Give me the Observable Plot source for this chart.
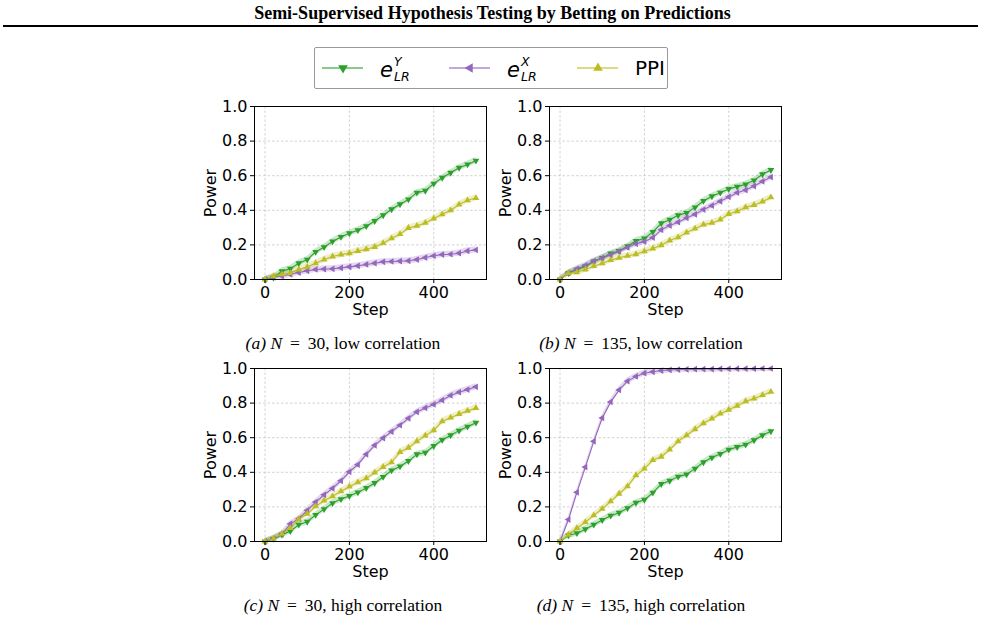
<!DOCTYPE html>
<html>
<head>
<meta charset="utf-8">
<script src="https://cdn.jsdelivr.net/npm/d3@7"></script>
<script src="https://cdn.jsdelivr.net/npm/@observablehq/plot@0.6"></script>
<style>
  html, body { margin: 0; padding: 0; background: #fff; }
  #page { position: relative; width: 985px; height: 633px; overflow: hidden; background: #fff; }
  #title { position: absolute; left: 0; width: 985px; top: 3px; text-align: center;
           font-family: "Liberation Serif", serif; font-weight: bold; font-size: 18px; color: #000; }
  #rule { position: absolute; left: 3px; width: 975px; top: 25px; height: 2px; background: #000; }
  #legend { position: absolute; left: 314px; top: 47px; width: 352px; height: 40px;
            border: 1px solid #9a9a9a; border-radius: 2px; background: #fff;
            font-family: "DejaVu Sans", sans-serif; color: #000; }
  .item { position: absolute; top: 0; height: 40px; display: flex; align-items: center; }
  .item svg { display: block; }
  .math { position: relative; display: inline-block; font-style: italic; width: 34px; height: 40px; }
  .math .base { position: absolute; left: 0; top: 12px; font-size: 21px; line-height: 21px; }
  .math .sup { position: absolute; left: 14px; top: 8px; font-size: 12.5px; line-height: 12.5px; }
  .math .sub { position: absolute; left: 14px; top: 23px; font-size: 12.5px; line-height: 12.5px; }
  .plain { font-size: 20px; }
  .panel { position: absolute; }
  .cap { position: absolute; width: 300px; text-align: center; font-family: "Liberation Serif", serif;
         font-size: 17.5px; color: #000; }
</style>
</head>
<body>
<div id="page">
  <div id="title">Semi-Supervised Hypothesis Testing by Betting on Predictions</div>
  <div id="rule"></div>
  <div id="legend"></div>
  <div id="pa" class="panel" style="left:200px; top:95px"></div>
  <div id="pb" class="panel" style="left:495px; top:95px"></div>
  <div id="pc" class="panel" style="left:200px; top:357px"></div>
  <div id="pd" class="panel" style="left:495px; top:357px"></div>
  <div class="cap" style="left:193px; top:333px"><i>(a)</i> <i>N</i>&#8201; = &#8201;30, low correlation</div>
  <div class="cap" style="left:491px; top:333px"><i>(b)</i> <i>N</i>&#8201; = &#8201;135, low correlation</div>
  <div class="cap" style="left:193px; top:595px"><i>(c)</i> <i>N</i>&#8201; = &#8201;30, high correlation</div>
  <div class="cap" style="left:491px; top:595px"><i>(d)</i> <i>N</i>&#8201; = &#8201;135, high correlation</div>
</div>
<script>
// Test steps at which power was measured
const steps = [0, 20, 40, 60, 80, 100, 120, 140, 160, 180, 200, 220, 240, 260, 280, 300,
               320, 340, 360, 380, 400, 420, 440, 460, 480, 500];

// (a) N = 30, low correlation
const aEY   = [0, 0.010, 0.048, 0.063, 0.094, 0.115, 0.160, 0.187, 0.220, 0.246, 0.267, 0.285, 0.308,
               0.338, 0.371, 0.406, 0.435, 0.463, 0.502, 0.513, 0.554, 0.588, 0.617, 0.646, 0.665, 0.687];
const aEX   = [0, 0.013, 0.020, 0.030, 0.040, 0.050, 0.058, 0.060, 0.062, 0.067, 0.073, 0.079, 0.087,
               0.094, 0.102, 0.104, 0.106, 0.108, 0.115, 0.127, 0.137, 0.144, 0.146, 0.152, 0.165, 0.171];
const aPPI  = [0, 0.020, 0.030, 0.037, 0.058, 0.073, 0.094, 0.115, 0.133, 0.144, 0.152, 0.165, 0.175,
               0.188, 0.210, 0.238, 0.262, 0.298, 0.310, 0.327, 0.352, 0.377, 0.400, 0.433, 0.458, 0.471];

// (b) N = 135, low correlation
const bEY   = [0, 0.037, 0.056, 0.075, 0.104, 0.125, 0.150, 0.165, 0.192, 0.223, 0.238, 0.275, 0.325,
               0.346, 0.371, 0.385, 0.417, 0.454, 0.481, 0.502, 0.523, 0.537, 0.550, 0.573, 0.608, 0.633];
const bEX   = [0, 0.037, 0.062, 0.081, 0.106, 0.125, 0.142, 0.163, 0.185, 0.206, 0.219, 0.242, 0.287,
               0.312, 0.331, 0.356, 0.377, 0.404, 0.427, 0.452, 0.477, 0.502, 0.517, 0.540, 0.567, 0.592];
const bPPI  = [0, 0.037, 0.042, 0.058, 0.077, 0.094, 0.112, 0.125, 0.137, 0.146, 0.163, 0.179, 0.198,
               0.225, 0.244, 0.271, 0.294, 0.317, 0.327, 0.346, 0.379, 0.394, 0.417, 0.431, 0.450, 0.475];

// (c) N = 30, high correlation
const cEY   = [0, 0.015, 0.039, 0.060, 0.097, 0.114, 0.154, 0.187, 0.222, 0.245, 0.263, 0.284, 0.309,
               0.338, 0.373, 0.411, 0.434, 0.465, 0.504, 0.514, 0.552, 0.587, 0.614, 0.641, 0.664, 0.687];
const cEX   = [0, 0.017, 0.042, 0.102, 0.131, 0.180, 0.228, 0.270, 0.307, 0.351, 0.403, 0.444, 0.504,
               0.556, 0.598, 0.635, 0.672, 0.712, 0.749, 0.772, 0.792, 0.817, 0.844, 0.863, 0.878, 0.894];
const cPPI  = [0, 0.017, 0.044, 0.077, 0.129, 0.160, 0.203, 0.236, 0.261, 0.290, 0.317, 0.342, 0.365,
               0.398, 0.431, 0.458, 0.517, 0.542, 0.579, 0.612, 0.643, 0.695, 0.716, 0.737, 0.755, 0.772];

// (d) N = 135, high correlation
const dEY   = [0, 0.035, 0.048, 0.071, 0.097, 0.124, 0.149, 0.166, 0.193, 0.224, 0.241, 0.282, 0.332,
               0.351, 0.375, 0.388, 0.421, 0.458, 0.485, 0.506, 0.531, 0.546, 0.560, 0.585, 0.614, 0.637];
const dEX   = [0, 0.127, 0.284, 0.430, 0.579, 0.714, 0.807, 0.876, 0.927, 0.954, 0.973, 0.981, 0.988,
               0.992, 0.994, 0.995, 0.996, 0.997, 0.997, 0.998, 0.998, 0.999, 0.999, 0.999, 1.000, 1.000];
const dPPI  = [0, 0.039, 0.077, 0.112, 0.151, 0.189, 0.232, 0.276, 0.319, 0.382, 0.421, 0.471, 0.490,
               0.531, 0.579, 0.614, 0.649, 0.683, 0.710, 0.739, 0.761, 0.784, 0.811, 0.826, 0.846, 0.865];

// Half-width of the shaded uncertainty band around each curve
const bandHalf = 0.018;

// Series styling: colour and marker direction (degrees of rotation of an up-triangle)
const seriesNames  = ["eY", "eX", "PPI"];
const seriesColors = ["#2ca02c", "#9467bd", "#bcbd22"];
const seriesRotate = [180, 270, 0];

const yTicks = [0, 0.2, 0.4, 0.6, 0.8, 1.0];
const xTicks = [0, 200, 400];

function rowsFor(values) {
  const rows = [];
  values.forEach((vals, s) => {
    vals.forEach((v, i) => rows.push({
      series: seriesNames[s], step: steps[i], power: v,
      lo: Math.max(0, v - bandHalf), hi: Math.min(1, v + bandHalf),
      color: seriesColors[s], rot: seriesRotate[s]
    }));
  });
  return rows;
}

function panel(values) {
  const rows = rowsFor(values);
  return Plot.plot({
    width: 290, height: 230,
    marginLeft: 54, marginRight: 4, marginTop: 11, marginBottom: 46,
    style: { fontFamily: "DejaVu Sans, sans-serif", fontSize: "16px", color: "#000", background: "transparent", overflow: "visible" },
    color: { type: "identity" },
    x: { domain: [-25, 525] },
    y: { domain: [0, 1] },
    marks: [
      Plot.gridX(xTicks, { stroke: "#b0b0b0", strokeOpacity: 0.7, strokeDasharray: "2.5,2", strokeWidth: 0.8 }),
      Plot.gridY(yTicks, { stroke: "#b0b0b0", strokeOpacity: 0.7, strokeDasharray: "2.5,2", strokeWidth: 0.8 }),
      Plot.areaY(rows, { x: "step", y1: "lo", y2: "hi", z: "series", fill: "color", fillOpacity: 0.25 }),
      Plot.line(rows, { x: "step", y: "power", z: "series", stroke: "color", strokeWidth: 1.1 }),
      Plot.dot(rows, { x: "step", y: "power", symbol: "triangle", rotate: "rot", r: 2.5, fill: "color", stroke: "none" }),
      Plot.axisX(xTicks, { tickSize: 4, tickPadding: 3, label: "Step", labelAnchor: "center", labelArrow: "none", labelOffset: 35, fontSize: 16 }),
      Plot.axisY(yTicks, { tickSize: 4, tickPadding: 3, tickFormat: ".1f", label: "Power", labelAnchor: "center", labelArrow: "none", labelOffset: 50, fontSize: 16 }),
      Plot.frame({ stroke: "#000", strokeWidth: 1 })
    ]
  });
}

document.getElementById("pa").append(panel([aEY, aEX, aPPI]));
document.getElementById("pb").append(panel([bEY, bEX, bPPI]));
document.getElementById("pc").append(panel([cEY, cEX, cPPI]));
document.getElementById("pd").append(panel([dEY, dEX, dPPI]));

// Legend: line-with-marker swatch followed by the series name
const legendItems = [
  { left: 7,   color: seriesColors[0], rot: seriesRotate[0], html: '<span class="math"><span class="base">e</span><span class="sup">Y</span><span class="sub">LR</span></span>' },
  { left: 134, color: seriesColors[1], rot: seriesRotate[1], html: '<span class="math"><span class="base">e</span><span class="sup">X</span><span class="sub">LR</span></span>' },
  { left: 262, color: seriesColors[2], rot: seriesRotate[2], html: '<span class="plain">PPI</span>' }
];
const legend = document.getElementById("legend");
for (const it of legendItems) {
  const div = document.createElement("div");
  div.className = "item";
  div.style.left = it.left + "px";
  const sym = d3.symbol(d3.symbolTriangle, 40)();
  div.innerHTML =
    `<svg width="42" height="40"><line x1="0" x2="41" y1="20" y2="20" stroke="${it.color}" stroke-opacity="0.75" stroke-width="1.5"/>` +
    `<path d="${sym}" transform="translate(21,20) rotate(${it.rot})" fill="${it.color}"/></svg>` +
    `<span style="display:inline-block;width:16px"></span>` + it.html;
  legend.append(div);
}
</script>
</body>
</html>
